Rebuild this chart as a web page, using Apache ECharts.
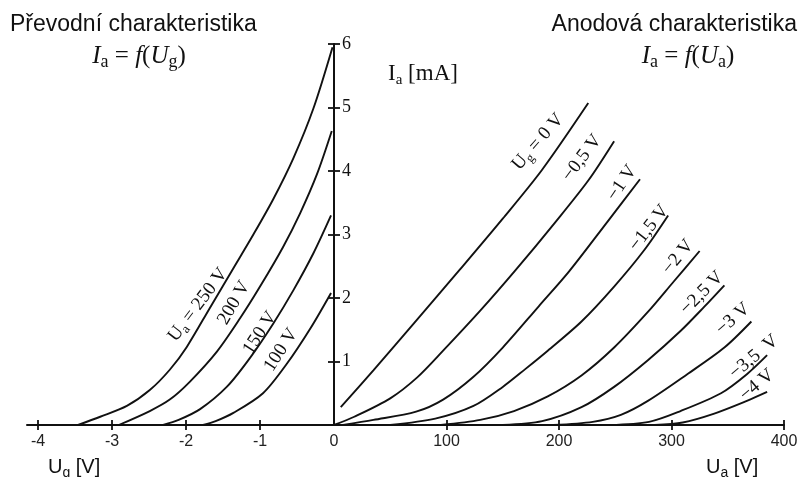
<!DOCTYPE html>
<html><head><meta charset="utf-8">
<script src="https://cdn.jsdelivr.net/npm/echarts@6/dist/echarts.min.js"></script>
<style>html,body{margin:0;padding:0;background:#fff}#c{width:803px;height:477px}</style>
</head><body><div id="c"></div>
<script>
// ---- data ----
// Transfer characteristics Ia = f(Ug)  [Ug (V), Ia (mA)]
const ua250 = [[-3.46,0],[-3.16,0.13],[-2.8,0.3],[-2.49,0.55],[-2.22,0.87],[-1.99,1.23],[-1.68,1.84],[-1.36,2.47],[-1.09,3.0],[-0.82,3.56],[-0.55,4.2],[-0.28,4.98],[-0.02,5.95]];
const ua200 = [[-2.91,0],[-2.49,0.22],[-2.22,0.4],[-1.95,0.68],[-1.58,1.16],[-1.27,1.68],[-1.0,2.18],[-0.69,2.8],[-0.46,3.33],[-0.23,3.95],[-0.03,4.63]];
const ua150 = [[-2.31,0],[-2.1,0.08],[-1.81,0.25],[-1.45,0.6],[-1.14,1.05],[-0.82,1.6],[-0.55,2.12],[-0.28,2.7],[-0.04,3.3]];
const ua100 = [[-1.77,0],[-1.6,0.06],[-1.36,0.19],[-0.96,0.5],[-0.64,0.96],[-0.32,1.52],[-0.04,2.08]];
// Anode characteristics Ia = f(Ua)  [Ua (V), Ia (mA)]
const ug0   = [[6,0.28],[35,0.86],[71,1.6],[112,2.45],[150,3.25],[185,4.02],[226,5.07]];
const ugM05 = [[0,0],[18,0.13],[50,0.42],[74,0.75],[97,1.17],[130,1.8],[161,2.43],[197,3.2],[226,3.85],[249,4.47]];
const ugM1  = [[8,0],[35,0.08],[73,0.21],[97,0.4],[124,0.76],[150,1.22],[182,1.87],[209,2.42],[243,3.2],[272,3.87]];
const ugM15 = [[50,0],[90,0.1],[124,0.3],[150,0.6],[170,0.88],[190,1.17],[220,1.63],[249,2.18],[276,2.76],[297,3.3]];
const ugM2  = [[95,0],[130,0.08],[160,0.22],[190,0.45],[220,0.78],[249,1.22],[279,1.78],[302,2.26],[325,2.74]];
const ugM25 = [[150,0],[185,0.06],[220,0.28],[249,0.6],[279,1.02],[308,1.48],[329,1.86],[347,2.2]];
const ugM3  = [[195,0],[230,0.05],[255,0.16],[279,0.38],[314,0.8],[347,1.22],[371,1.63]];
const ugM35 = [[245,0],[280,0.05],[308,0.22],[344,0.5],[367,0.8],[385,1.1]];
const ugM4  = [[285,0],[310,0.04],[338,0.18],[367,0.38],[385,0.52]];
// tick labels
const ugTicks = [-4,-3,-2,-1];
const ugLabels = [-4,-3,-2,-1,0];
const uaTicks = [0,100,200,300,400];
const iaLabels = [1,2,3,4,5,6];

const chart = echarts.init(document.getElementById('c'), null, {renderer:'canvas'});
const BLK = '#111';
const serif = 'Liberation Serif';
const sans = 'Liberation Sans';

function lineSeries(data, xi, yi){
  return {type:'line', data:data, xAxisIndex:xi, yAxisIndex:yi, showSymbol:false, symbol:'none',
    smooth:0.3, lineStyle:{color:BLK, width:1.9}, silent:true, z:3};
}
const axLine = {show:true, onZero:false, lineStyle:{color:BLK, width:2}};
const tickSt = {color:BLK, width:1.8};

function txt(x,y,text,font,rot,align){
  return {type:'text', x:x, y:y, rotation:(rot||0)*Math.PI/180, z:10,
    style:{text:text, font:font, fill:BLK, align:align||'center', verticalAlign:'middle'}};
}
function rich(x,y,text,richDef,rot,align){
  return {type:'text', x:x, y:y, rotation:(rot||0)*Math.PI/180, z:10,
    style:{text:text, rich:richDef, fill:BLK, align:align||'center', verticalAlign:'middle'}};
}
const formulaRich = {
  i:{fontFamily:serif, fontStyle:'italic', fontSize:25, lineHeight:28, fill:BLK},
  n:{fontFamily:serif, fontSize:25, lineHeight:28, fill:BLK},
  s:{fontFamily:serif, fontSize:18, lineHeight:16, padding:[12,0,0,0], fill:BLK}
};
const axNameRich = {
  n:{fontFamily:sans, fontSize:20, lineHeight:24, fill:BLK},
  s:{fontFamily:sans, fontSize:14, lineHeight:14, padding:[12,0,0,0], fill:BLK}
};
const iaRich = {
  n:{fontFamily:serif, fontSize:23, lineHeight:26, fill:BLK},
  s:{fontFamily:serif, fontSize:15, lineHeight:14, padding:[12,0,0,0], fill:BLK}
};
const lblRich = {
  n:{fontFamily:serif, fontSize:19, lineHeight:22, fill:BLK},
  s:{fontFamily:serif, fontSize:13, lineHeight:12, padding:[10,0,0,0], fill:BLK}
};
const lf = '19px "Liberation Serif"';

const option = {
  animation:false,
  backgroundColor:'#fff',
  grid:[
    {left:27, width:307, top:44, height:381},
    {left:334, width:450, top:44, height:381}
  ],
  xAxis:[
    {gridIndex:0, type:'value', position:'bottom', min:-4.15, max:0,
     axisLine:axLine, splitLine:{show:false},
     axisTick:{show:true, customValues:ugTicks, length:5, lineStyle:tickSt},
     axisLabel:{customValues:ugLabels, margin:9, fontFamily:sans, fontSize:16, color:'#222'}},
    {gridIndex:0, type:'value', position:'bottom', min:-4.15, max:0,
     axisLine:{show:false}, splitLine:{show:false},
     axisTick:{show:true, inside:true, customValues:ugTicks, length:5, lineStyle:tickSt},
     axisLabel:{show:false}},
    {gridIndex:1, type:'value', position:'bottom', min:0, max:400, interval:100,
     axisLine:axLine, splitLine:{show:false},
     axisTick:{show:true, customValues:uaTicks, length:5, lineStyle:tickSt},
     axisLabel:{showMinLabel:false, margin:9, fontFamily:sans, fontSize:16, color:'#222'}},
    {gridIndex:1, type:'value', position:'bottom', min:0, max:400, interval:100,
     axisLine:{show:false}, splitLine:{show:false},
     axisTick:{show:true, inside:true, customValues:uaTicks, length:5, lineStyle:tickSt},
     axisLabel:{show:false}}
  ],
  yAxis:[
    {gridIndex:0, type:'value', position:'right', min:0, max:6, interval:1,
     axisLine:axLine, splitLine:{show:false},
     axisTick:{show:true, inside:true, length:6, lineStyle:tickSt},
     axisLabel:{show:false}},
    {gridIndex:1, type:'value', position:'left', min:0, max:6, interval:1,
     axisLine:axLine, splitLine:{show:false},
     axisTick:{show:true, inside:true, length:6, lineStyle:tickSt},
     axisLabel:{inside:true, margin:8, fontFamily:serif, fontSize:18, color:BLK,
       customValues:iaLabels}}
  ],
  series:[
    lineSeries(ua250,0,0), lineSeries(ua200,0,0), lineSeries(ua150,0,0), lineSeries(ua100,0,0),
    lineSeries(ug0,2,1), lineSeries(ugM05,2,1), lineSeries(ugM1,2,1), lineSeries(ugM15,2,1),
    lineSeries(ugM2,2,1), lineSeries(ugM25,2,1), lineSeries(ugM3,2,1), lineSeries(ugM35,2,1), lineSeries(ugM4,2,1)
  ],
  graphic:[
    txt(10, 25, 'Převodní charakteristika', '23px "Liberation Sans"', 0, 'left'),
    txt(797, 25, 'Anodová charakteristika', '23px "Liberation Sans"', 0, 'right'),
    rich(139, 56, '{i|I}{s|a}{n| = }{i|f}{n|(}{i|U}{s|g}{n|)}', formulaRich),
    rich(688, 56, '{i|I}{s|a}{n| = }{i|f}{n|(}{i|U}{s|a}{n|)}', formulaRich),
    rich(423, 74, '{n|I}{s|a}{n| [mA]}', iaRich),
    rich(48, 467, '{n|U}{s|g}{n| [V]}', axNameRich, 0, 'left'),
    rich(706, 467, '{n|U}{s|a}{n| [V]}', axNameRich, 0, 'left'),
    // left curve labels
    rich(198, 305, '{n|U}{s|a}{n| = 250 V}', lblRich, 53),
    txt(234, 303, '200 V', lf, 60),
    txt(260, 333, '150 V', lf, 57),
    txt(281, 350, '100 V', lf, 57),
    // right curve labels
    rich(538, 142, '{n|U}{s|g}{n| = 0 V}', lblRich, 49),
    txt(582, 158, '−0,5 V', lf, 53),
    txt(622, 183, '−1 V', lf, 56),
    txt(649, 228, '−1,5 V', lf, 52),
    txt(678, 257, '−2 V', lf, 51),
    txt(702, 293, '−2,5 V', lf, 45),
    txt(733, 319, '−3 V', lf, 41),
    txt(754, 357, '−3,5  V', lf, 40),
    txt(757, 385, '−4 V', lf, 40)
  ]
};
chart.setOption(option);
</script></body></html>
